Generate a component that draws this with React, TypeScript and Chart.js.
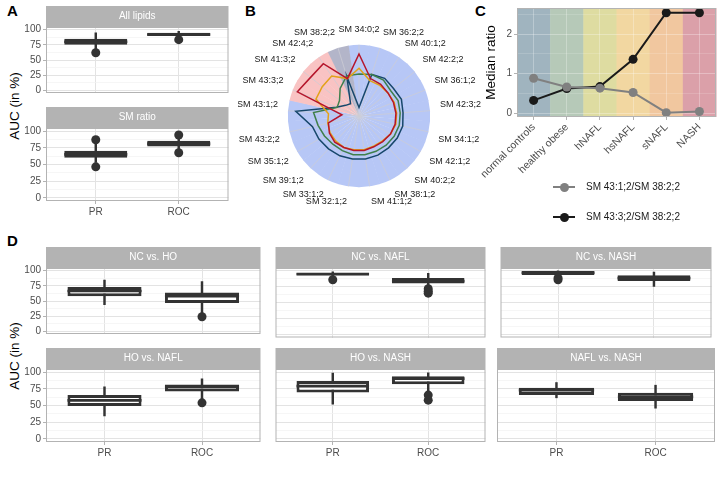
import React, { useEffect, useRef } from 'react';
import { Chart, registerables } from 'chart.js';

Chart.register(...registerables);

const FONT = '"Liberation Sans", Arial, Helvetica, sans-serif';
Chart.defaults.font.family = FONT;

// ---------- Panel A / D : box-plot facets ----------
const methods = ['PR', 'ROC'];
const aucTicks = [0, 25, 50, 75, 100];
// each row: [lower whisker, Q1, median, Q3, upper whisker]
const allLipidsBox = [[66, 75, 80, 85, 95], [87, 89.5, 92, 95, 97.5]];
const allLipidsOut = [[62], [83.6]];
const smRatioBox = [[53, 60, 65, 70.5, 80], [72, 77, 81, 85.5, 90]];
const smRatioOut = [[87, 46.5], [94, 67.5]];

const ncHoBox = [[44, 57.7, 66.5, 73, 84.7], [30, 46.7, 57.7, 64, 82]];
const ncHoOut = [[], [24]];
const ncNaflBox = [[90, 93, 95, 96.5, 98.5], [76, 80.3, 84, 88.7, 96]];
const ncNaflOut = [[86], [72, 68, 65]];
const ncNashBox = [[92, 93.5, 97, 99.6, 100], [75.5, 84, 88.5, 93, 98]];
const ncNashOut = [[89, 86], []];
const hoNaflBox = [[34.5, 49.3, 57.7, 65.5, 78], [60, 71, 78, 81.4, 90]];
const hoNaflOut = [[], [54]];
const hoNashBox = [[52, 69.5, 79, 86.7, 98.5], [72, 81.8, 90, 93.6, 98.6]];
const hoNashOut = [[], [65.5, 58]];
const naflNashBox = [[61.5, 65.6, 73, 76.4, 84.3], [46, 56.6, 63, 69, 80.3]];
const naflNashOut = [[], []];

// ---------- Panel B : radar ----------
const radarLabels = [
  'SM 34:0;2', 'SM 36:2;2', 'SM 40:1;2', 'SM 42:2;2', 'SM 36:1;2', 'SM 42:3;2', 'SM 34:1;2',
  'SM 42:1;2', 'SM 40:2;2', 'SM 38:1;2', 'SM 41:1;2', 'SM 32:1;2', 'SM 33:1;2', 'SM 39:1;2',
  'SM 35:1;2', 'SM 43:2;2', 'SM 43:1;2', 'SM 43:3;2', 'SM 41:3;2', 'SM 42:4;2', 'SM 38:2;2',
];
const radarGroups = [0, 0, 0, 0, 0, 0, 0, 0, 0, 0, 0, 0, 0, 0, 0, 0, 0, 1, 1, 1, 2];
const radarGroupColors = ['#B7C7F6', '#F9C3C3', '#B3B5C9'];
const radarRed = [0.87, 0.55, 0.54, 0.52, 0.52, 0.52, 0.52, 0.51, 0.49, 0.48, 0.49, 0.49, 0.49, 0.5, 0.48, 0.44, 0.24, 0.93, 0.87, 0.89, 0.55];
const radarOrange = [0.67, 0.52, 0.52, 0.52, 0.53, 0.53, 0.53, 0.51, 0.48, 0.47, 0.48, 0.48, 0.49, 0.48, 0.47, 0.45, 0.43, 0.65, 0.66, 0.68, 0.55];
const radarGreen = [0.59, 0.61, 0.61, 0.57, 0.59, 0.58, 0.58, 0.57, 0.56, 0.55, 0.55, 0.55, 0.54, 0.54, 0.56, 0.59, 0.64, 0.33, 0.35, 0.47, 0.59];
const radarNavy = [0.12, 0.61, 0.64, 0.62, 0.64, 0.62, 0.63, 0.62, 0.61, 0.61, 0.61, 0.61, 0.62, 0.63, 0.65, 0.67, 0.89, 0.34, 0.24, 0.21, 0.58];

// ---------- Panel C : median ratio ----------
const stages = ['normal controls', 'healthy obese', 'hNAFL', 'hsNAFL', 'sNAFL', 'NASH'];
const stageColors = ['#A0B4BF', '#B6C9B8', '#DEDCA1', '#F2D7A1', '#F1C79F', '#DBA0A9'];
const ratioTicks = [0, 1, 2];
const ratio431 = [0.88, 0.66, 0.63, 0.52, 0.01, 0.04];
const ratio433 = [0.32, 0.62, 0.67, 1.36, 2.54, 2.54];
const ratioNames = ['SM 43:1;2/SM 38:2;2', 'SM 43:3;2/SM 38:2;2'];
const ratioColors = ['#808080', '#1A1A1A'];

// ---------- styles ----------
const DARK = '#333333';
const STRIP = '#B3B3B3';
const BORDER = '#B3B3B3';
const TICKTXT = '#4D4D4D';
const MED_HALF = 2.1;
const STRIP_H = 21;

const stripPlugin = {
  id: 'strip',
  beforeDraw(chart: any) {
    const t = chart.titleBlock;
    if (!t || !chart.options.plugins.title.display) return;
    const ctx = chart.ctx;
    ctx.save();
    ctx.fillStyle = STRIP;
    ctx.fillRect(t.left, t.top, t.width, t.height);
    ctx.restore();
  },
};

const borderPlugin = {
  id: 'panelBorder',
  afterDraw(chart: any) {
    const a = chart.chartArea;
    const ctx = chart.ctx;
    ctx.save();
    ctx.strokeStyle = BORDER;
    ctx.lineWidth = 1;
    ctx.strokeRect(a.left + 0.5, a.top + 0.5, a.width - 1, a.height - 1);
    ctx.restore();
  },
};

const bandPlugin = {
  id: 'bands',
  beforeDraw(chart: any) {
    const x = chart.scales.x;
    const a = chart.chartArea;
    const w = a.width / stages.length;
    const ctx = chart.ctx;
    ctx.save();
    stages.forEach((_, i) => {
      const c = x.getPixelForValue(i);
      ctx.fillStyle = stageColors[i];
      ctx.fillRect(c - w / 2, a.top, w + 0.5, a.height);
    });
    ctx.restore();
  },
};

const wedgePlugin = {
  id: 'wedges',
  beforeDraw(chart: any) {
    const s = chart.scales.r;
    const n = radarLabels.length;
    const step = (2 * Math.PI) / n;
    const ctx = chart.ctx;
    ctx.save();
    for (let i = 0; i < n; i++) {
      const a = s.getIndexAngle(i) - Math.PI / 2;
      ctx.beginPath();
      ctx.moveTo(s.xCenter, s.yCenter);
      ctx.arc(s.xCenter, s.yCenter, s.drawingArea, a - step / 2 - 0.004, a + step / 2 + 0.004);
      ctx.closePath();
      ctx.fillStyle = radarGroupColors[radarGroups[i]];
      ctx.fill();
    }
    ctx.restore();
  },
};

const isMajor = (v: number, step: number) => Math.abs(v / step - Math.round(v / step)) < 1e-6;

function boxFacetConfig(title: string, box: number[][], out: number[][], showY: boolean, showX: boolean, yW: number, xH: number) {
  const minor: number[] = [];
  for (let i = 0; i < aucTicks.length; i++) {
    minor.push(aucTicks[i]);
    if (i < aucTicks.length - 1) minor.push((aucTicks[i] + aucTicks[i + 1]) / 2);
  }
  return {
    type: 'bar',
    data: {
      datasets: [
        {
          type: 'bar', data: box.map((s, i) => ({ x: i + 1, y: [s[0], s[4]] })),
          backgroundColor: DARK, barThickness: 1.8, grouped: false, order: 3,
        },
        {
          type: 'bar', data: box.map((s, i) => ({ x: i + 1, y: [s[1], s[3]] })),
          backgroundColor: '#FFFFFF', borderColor: DARK, borderWidth: 3, borderSkipped: false,
          categoryPercentage: 1, barPercentage: 0.76, grouped: false, order: 2,
        },
        {
          type: 'bar', data: box.map((s, i) => ({ x: i + 1, y: [s[2] - MED_HALF, s[2] + MED_HALF] })),
          backgroundColor: DARK, categoryPercentage: 1, barPercentage: 0.76, grouped: false, order: 1,
        },
        {
          type: 'line', data: out.flatMap((vals, i) => vals.map((v) => ({ x: i + 1, y: v }))),
          showLine: false, pointRadius: 4.5, pointBackgroundColor: DARK, pointBorderWidth: 0, order: 0,
        },
      ],
    },
    options: {
      animation: false, responsive: false, devicePixelRatio: 1,
      layout: { padding: { left: 1, right: 1, top: 0, bottom: 1 } },
      plugins: {
        legend: { display: false }, tooltip: { enabled: false },
        title: {
          display: true, text: title, fullSize: false, color: '#FFFFFF',
          font: { size: 10, weight: 'normal', lineHeight: 1.1 }, padding: { top: 5, bottom: 5 },
        },
      },
      scales: {
        x: {
          type: 'linear', min: 0.4, max: 2.6, offset: false,
          afterBuildTicks: (s: any) => { s.ticks = methods.map((_, i) => ({ value: i + 1 })); },
          afterFit: (s: any) => { s.height = xH; },
          ticks: { display: showX, callback: (v: number) => methods[v - 1], font: { size: 10 }, color: TICKTXT, padding: 2, maxRotation: 0, autoSkip: false },
          grid: { color: '#E3E3E3', lineWidth: 1, offset: false, drawTicks: showX, tickLength: 3, tickColor: BORDER },
          border: { display: false },
        },
        y: {
          type: 'linear', min: -4.5, max: 104.5,
          afterBuildTicks: (s: any) => { s.ticks = minor.map((v) => ({ value: v })); },
          afterFit: (s: any) => { s.width = yW; },
          ticks: { display: showY, callback: (v: number) => (isMajor(v, 25) ? String(v) : ''), font: { size: 10 }, color: TICKTXT, padding: 2, autoSkip: false },
          grid: {
            color: (c: any) => (c.tick && isMajor(c.tick.value, 25) ? '#E3E3E3' : '#F2F2F2'),
            lineWidth: (c: any) => (c.tick && isMajor(c.tick.value, 25) ? 1 : 0.7),
            drawTicks: showY, tickLength: 3,
            tickColor: (c: any) => (c.tick && isMajor(c.tick.value, 25) ? BORDER : 'rgba(0,0,0,0)'),
          },
          border: { display: false },
        },
      },
    },
    plugins: [stripPlugin, borderPlugin],
  };
}

function radarConfig() {
  const ds = (data: number[], color: string) => ({
    data, borderColor: color, backgroundColor: color, borderWidth: 1.5, fill: false, pointRadius: 0, tension: 0,
  });
  return {
    type: 'radar',
    data: {
      labels: radarLabels,
      datasets: [ds(radarRed, '#B5152B'), ds(radarOrange, '#E3A21A'), ds(radarGreen, '#3F7F4C'), ds(radarNavy, '#17476B')],
    },
    options: {
      animation: false, responsive: false, devicePixelRatio: 1,
      layout: { padding: 0 },
      plugins: { legend: { display: false }, tooltip: { enabled: false } },
      scales: {
        r: {
          min: 0, max: 1,
          ticks: { display: false },
          grid: { display: false },
          angleLines: { color: 'rgba(205,205,212,0.95)', lineWidth: 0.8 },
          pointLabels: { font: { size: 9 }, color: '#1A1A1A', padding: 10 },
        },
      },
    },
    plugins: [wedgePlugin],
  };
}

function ratioConfig() {
  const minor: number[] = [];
  for (let i = 0; i < ratioTicks.length; i++) {
    minor.push(ratioTicks[i]);
    minor.push(ratioTicks[i] + 0.5);
  }
  const ds = (label: string, data: number[], color: string) => ({
    label, data, borderColor: color, backgroundColor: color, borderWidth: 2,
    pointRadius: 4.5, pointBackgroundColor: color, pointBorderWidth: 0, clip: false, tension: 0,
  });
  return {
    type: 'line',
    data: {
      labels: stages,
      datasets: [ds(ratioNames[0], ratio431, ratioColors[0]), ds(ratioNames[1], ratio433, ratioColors[1])],
    },
    options: {
      animation: false, responsive: false, devicePixelRatio: 1,
      layout: { padding: { left: 0, right: 6, top: 5, bottom: 0 } },
      plugins: { legend: { display: false }, tooltip: { enabled: false } },
      scales: {
        x: {
          type: 'category', offset: true,
          afterFit: (s: any) => { s.height = 63; },
          ticks: { font: { size: 10.5 }, color: TICKTXT, maxRotation: 45, minRotation: 45, padding: 1, autoSkip: false },
          grid: { color: 'rgba(255,255,255,0.28)', lineWidth: 1, offset: false, drawTicks: true, tickLength: 3, tickColor: BORDER },
          border: { display: false },
        },
        y: {
          type: 'linear', min: -0.1, max: 2.66,
          afterBuildTicks: (s: any) => { s.ticks = minor.map((v) => ({ value: v })); },
          afterFit: (s: any) => { s.width = 39; },
          ticks: { callback: (v: number) => (isMajor(v, 1) ? String(v) : ''), font: { size: 10 }, color: TICKTXT, padding: 2, autoSkip: false },
          grid: {
            color: (c: any) => (c.tick && isMajor(c.tick.value, 1) ? 'rgba(255,255,255,0.3)' : 'rgba(255,255,255,0.15)'),
            lineWidth: 1, drawTicks: true, tickLength: 3,
            tickColor: (c: any) => (c.tick && isMajor(c.tick.value, 1) ? BORDER : 'rgba(0,0,0,0)'),
          },
          border: { display: false },
          title: { display: true, text: 'Median ratio', font: { size: 13.5 }, color: '#000000', padding: { top: 5, bottom: 0 } },
        },
      },
    },
    plugins: [bandPlugin, borderPlugin],
  };
}

function ChartBox(props: { left: number; top: number; width: number; height: number; make: () => any }) {
  const ref = useRef<HTMLCanvasElement | null>(null);
  useEffect(() => {
    const chart = new Chart(ref.current as HTMLCanvasElement, props.make());
    return () => chart.destroy();
  }, []);
  return (
    <canvas
      ref={ref}
      width={props.width}
      height={props.height}
      style={{ position: 'absolute', left: props.left, top: props.top, width: props.width, height: props.height }}
    />
  );
}

function Facet(p: { pl: number; pr: number; pt: number; pb: number; title: string; box: number[][]; out: number[][]; showY: boolean; showX: boolean }) {
  const yW = p.showY ? 30 : 0;
  const xH = p.showX ? 18 : 0;
  const left = p.pl - yW - 1;
  const top = p.pt - STRIP_H;
  const width = p.pr - p.pl + yW + 2;
  const height = STRIP_H + (p.pb - p.pt) + xH + 1;
  return (
    <ChartBox left={left} top={top} width={width} height={height}
      make={() => boxFacetConfig(p.title, p.box, p.out, p.showY, p.showX, yW, xH)} />
  );
}

const letterStyle = (left: number, top: number): React.CSSProperties => ({
  position: 'absolute', left, top, fontSize: 15, fontWeight: 'bold', lineHeight: 1, color: '#000', fontFamily: FONT,
});

const yTitleStyle = (cx: number, cy: number): React.CSSProperties => ({
  position: 'absolute', left: cx, top: cy, transform: 'translate(-50%, -50%) rotate(-90deg)',
  fontSize: 13.5, lineHeight: 1, whiteSpace: 'nowrap', color: '#000', fontFamily: FONT,
});

function LegendItem(p: { top: number; color: string; text: string }) {
  return (
    <div style={{ position: 'absolute', left: 553, top: p.top - 8, height: 16, width: 160, fontFamily: FONT }}>
      <div style={{ position: 'absolute', left: 0, top: 7, width: 22, height: 2, background: p.color }} />
      <div style={{ position: 'absolute', left: 6.5, top: 3.5, width: 9, height: 9, borderRadius: '50%', background: p.color }} />
      <div style={{ position: 'absolute', left: 33, top: 2, fontSize: 10, lineHeight: '12px', color: '#1A1A1A', whiteSpace: 'nowrap' }}>{p.text}</div>
    </div>
  );
}

export default function App() {
  const cols = [[46, 264], [272, 489], [497, 715]];
  const rows = [[268, 341], [369, 442]];
  const dFacets = [
    { title: 'NC vs. HO', box: ncHoBox, out: ncHoOut },
    { title: 'NC vs. NAFL', box: ncNaflBox, out: ncNaflOut },
    { title: 'NC vs. NASH', box: ncNashBox, out: ncNashOut },
    { title: 'HO vs. NAFL', box: hoNaflBox, out: hoNaflOut },
    { title: 'HO vs. NASH', box: hoNashBox, out: hoNashOut },
    { title: 'NAFL vs. NASH', box: naflNashBox, out: naflNashOut },
  ];
  return (
    <div style={{ position: 'absolute', left: 0, top: 0, width: 722, height: 481, background: '#FFFFFF', overflow: 'hidden', fontFamily: FONT }}>
      <div style={letterStyle(7, 3)}>A</div>
      <div style={letterStyle(245, 3)}>B</div>
      <div style={letterStyle(475, 3)}>C</div>
      <div style={letterStyle(7, 233)}>D</div>

      <div style={yTitleStyle(15, 106)}>AUC (in %)</div>
      <div style={yTitleStyle(15, 356)}>AUC (in %)</div>

      <Facet pl={46} pr={232} pt={27} pb={100} title="All lipids" box={allLipidsBox} out={allLipidsOut} showY={true} showX={false} />
      <Facet pl={46} pr={232} pt={128} pb={201} title="SM ratio" box={smRatioBox} out={smRatioOut} showY={true} showX={true} />

      <ChartBox left={238} top={16} width={244} height={200} make={radarConfig} />

      <ChartBox left={478} top={0} width={244} height={180} make={ratioConfig} />
      <LegendItem top={187} color={ratioColors[0]} text={ratioNames[0]} />
      <LegendItem top={217} color={ratioColors[1]} text={ratioNames[1]} />

      {dFacets.map((f, k) => {
        const r = Math.floor(k / 3);
        const c = k % 3;
        return (
          <Facet key={k} pl={cols[c][0]} pr={cols[c][1]} pt={rows[r][0]} pb={rows[r][1]}
            title={f.title} box={f.box} out={f.out} showY={c === 0} showX={r === 1} />
        );
      })}
    </div>
  );
}
